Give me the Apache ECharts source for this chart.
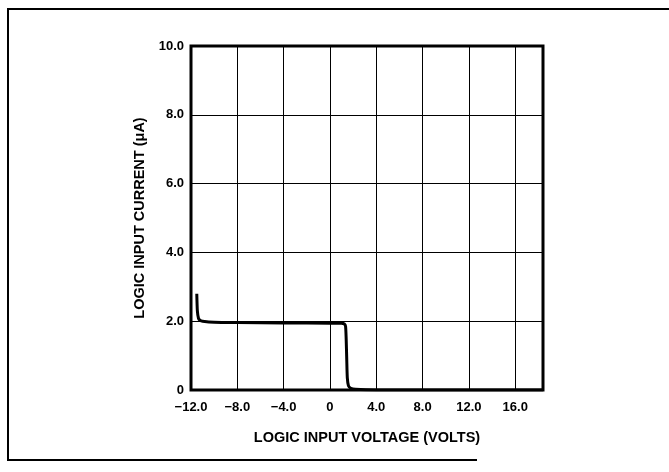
<!DOCTYPE html>
<html>
<head>
<meta charset="utf-8">
<script src="https://cdn.jsdelivr.net/npm/echarts@6/dist/echarts.min.js"></script>
<style>
* { padding: 0; margin: 0; }
body { background: #fff; }
</style>
</head>
<body>
<div id="chart" style="width: 669px; height: 472px"></div>
<script>
// logic input voltage (V) / logic input current (uA)
var voltage = [-11.5, -11.45, -11.35, -11.2, -11.0, -10.0, -8.0, -4.0, 0.0, 1.0, 1.25, 1.35, 1.4, 1.45, 1.5, 1.6, 1.8, 2.2, 4.0, 18.4];
var current = [2.8, 2.3, 2.08, 2.02, 2.0, 1.97, 1.96, 1.95, 1.94, 1.94, 1.92, 1.85, 1.5, 0.9, 0.35, 0.12, 0.05, 0.02, 0.0, 0.0];
var xTicks = [-12, -8, -4, 0, 4, 8, 12, 16];
var yTicks = [0, 2, 4, 6, 8, 10];

var fontFam = "'Liberation Sans', Arial, sans-serif";
var points = voltage.map(function (v, i) { return [v, current[i]]; });

var chart = echarts.init(document.getElementById("chart"));
chart.setOption({
  animation: false,
  grid: { left: 191, right: 126, top: 46, bottom: 82 },
  graphic: [
    {
      type: "polyline",
      shape: { points: [[669, 9], [8, 9], [8, 460], [477, 460]] },
      style: { stroke: "#000", lineWidth: 2, fill: null },
    },
    {
      type: "rect",
      shape: { x: 191, y: 46, width: 352, height: 344 },
      style: { stroke: "#000", lineWidth: 3, fill: null },
      z: 10,
    },
  ],
  xAxis: {
    type: "value",
    min: -12,
    max: 18.4,
    interval: 4,
    name: "LOGIC INPUT VOLTAGE (VOLTS)",
    nameLocation: "middle",
    nameGap: 40,
    nameTextStyle: { color: "#000", fontWeight: "bold", fontSize: 14.5, fontFamily: fontFam },
    axisLine: { show: false },
    axisTick: { show: false },
    axisLabel: {
      color: "#000",
      fontWeight: "bold",
      fontSize: 13,
      fontFamily: fontFam,
      margin: 11,
      showMaxLabel: false,
      formatter: function (v) {
        if (xTicks.indexOf(v) < 0) return "";
        if (v === 0) return "0";
        return (v < 0 ? "\u2212" + Math.abs(v).toFixed(1) : v.toFixed(1));
      },
    },
    splitLine: { show: true, lineStyle: { color: "#000", width: 1 } },
  },
  yAxis: {
    type: "value",
    min: 0,
    max: 10,
    interval: 2,
    name: "LOGIC INPUT CURRENT (\u03bcA)",
    nameLocation: "middle",
    nameGap: 38,
    nameTextStyle: { color: "#000", fontWeight: "bold", fontSize: 14.5, fontFamily: fontFam },
    axisLine: { show: false },
    axisTick: { show: false },
    axisLabel: {
      color: "#000",
      fontWeight: "bold",
      fontSize: 13,
      fontFamily: fontFam,
      margin: 7,
      formatter: function (v) {
        if (yTicks.indexOf(v) < 0) return "";
        return v === 0 ? "0" : v.toFixed(1);
      },
    },
    splitLine: { show: true, lineStyle: { color: "#000", width: 1 } },
  },
  series: [
    {
      type: "line",
      data: points,
      showSymbol: false,
      smooth: 0.2,
      lineStyle: { color: "#000", width: 3 },
      z: 5,
    },
  ],
});
</script>
</body>
</html>
